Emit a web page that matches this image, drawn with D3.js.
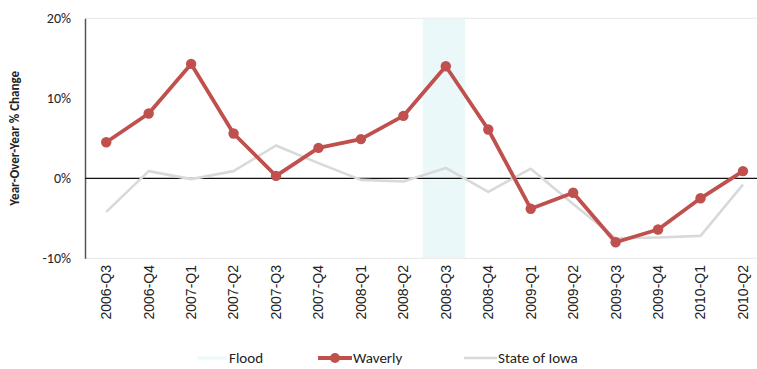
<!DOCTYPE html>
<html>
<head>
<meta charset="utf-8">
<script src="https://cdn.jsdelivr.net/npm/d3@7"></script>
<style>
  html, body { margin: 0; padding: 0; background: #fff; }
  svg { display: block; font-family: Carlito, Lato, "Open Sans", sans-serif; }
</style>
</head>
<body>
<svg id="chart" width="757" height="369"></svg>
<script>
// Quarterly year-over-year change in taxable sales (%)
const quarters = ["2006-Q3","2006-Q4","2007-Q1","2007-Q2","2007-Q3","2007-Q4","2008-Q1","2008-Q2",
                  "2008-Q3","2008-Q4","2009-Q1","2009-Q2","2009-Q3","2009-Q4","2010-Q1","2010-Q2"];
const waverly = [4.5, 8.1, 14.3, 5.6, 0.3, 3.8, 4.9, 7.8, 14.0, 6.1, -3.8, -1.8, -8.0, -6.4, -2.5, 0.9];
const stateOfIowa = [-4.2, 0.9, -0.1, 0.9, 4.1, 1.9, -0.2, -0.4, 1.3, -1.7, 1.2, -3.2, -7.5, -7.4, -7.2, -0.8];
const floodQuarters = ["2008-Q3"];
const yTicks = [-10, 0, 10, 20];
const legendItems = ["Flood", "Waverly", "State of Iowa"];

const svg = d3.select("#chart");
const margin = { left: 85, top: 18, right: 0, bottom: 111 };
const width = 757, height = 369;
const plotBottom = height - margin.bottom;

const x = d3.scaleBand().domain(quarters).range([margin.left, margin.left + 16 * 42.45]).padding(0);
const xc = d => x(d) + x.bandwidth() / 2;
const y = d3.scaleLinear().domain([-10, 20]).range([258.3, 18.3]);

const red = "#c0504d", gray = "#d9d9d9", flood = "#eaf8fa";

// Flood period shading
svg.append("g").selectAll("rect").data(floodQuarters).join("rect")
  .attr("x", d => x(d) - 2).attr("width", x.bandwidth())
  .attr("y", y(20)).attr("height", y(-10) - y(20))
  .attr("fill", flood);

// Faint horizontal gridlines at the extremes
svg.append("g").selectAll("line").data([20, -10]).join("line")
  .attr("x1", margin.left).attr("x2", width)
  .attr("y1", d => y(d)).attr("y2", d => y(d))
  .attr("stroke", "#ececec").attr("stroke-width", 1.2);

// Y axis
const yAxis = svg.append("g").attr("transform", `translate(${margin.left},0)`)
  .call(d3.axisLeft(y).tickValues(yTicks).tickFormat(d => d + "%").tickSize(0).tickPadding(14));
yAxis.select(".domain").attr("stroke", "#555").attr("stroke-width", 1.5);
yAxis.selectAll("text").attr("font-size", 14).attr("fill", "#222")
  .attr("font-family", "Carlito, Lato, sans-serif");

// Zero line
svg.append("line").attr("x1", margin.left).attr("x2", width)
  .attr("y1", y(0)).attr("y2", y(0)).attr("stroke", "#111").attr("stroke-width", 1.3);

// Y axis title
svg.append("text")
  .attr("transform", `translate(19,${y(5) - 0}) rotate(-90)`)
  .attr("text-anchor", "middle").attr("font-size", 13).attr("font-weight", "bold").attr("fill", "#222")
  .text("Year-Over-Year % Change");

// X axis labels
const xAxis = svg.append("g").attr("transform", `translate(0,${plotBottom})`)
  .call(d3.axisBottom(x).tickSize(0).tickPadding(0));
xAxis.select(".domain").remove();
xAxis.selectAll("text")
  .attr("transform", "rotate(-90)")
  .attr("text-anchor", "end").attr("x", -7).attr("y", 0).attr("dy", "0.35em")
  .attr("font-size", 14).attr("fill", "#222");

// Lines
const line = d3.line().x((d, i) => xc(quarters[i])).y(d => y(d));
svg.append("path").datum(stateOfIowa).attr("d", line)
  .attr("fill", "none").attr("stroke", gray).attr("stroke-width", 2.6).attr("stroke-linejoin", "round");
svg.append("path").datum(waverly).attr("d", line)
  .attr("fill", "none").attr("stroke", red).attr("stroke-width", 3.8).attr("stroke-linejoin", "round");
svg.append("g").selectAll("circle").data(waverly).join("circle")
  .attr("cx", (d, i) => xc(quarters[i])).attr("cy", d => y(d)).attr("r", 5.2).attr("fill", red);

// Legend
const legendY = 358;
const lg = svg.append("g");
const legendPos = [{ x0: 198, x1: 227, tx: 229 }, { x0: 318, x1: 352, tx: 353 }, { x0: 464, x1: 497, tx: 498 }];
const legendColors = [flood, red, gray];
const legendWidths = [3, 3.8, 2.6];
legendItems.forEach((name, i) => {
  const p = legendPos[i];
  lg.append("line").attr("x1", p.x0).attr("x2", p.x1).attr("y1", legendY).attr("y2", legendY)
    .attr("stroke", legendColors[i]).attr("stroke-width", legendWidths[i]);
  if (name === "Waverly") {
    lg.append("circle").attr("cx", (p.x0 + p.x1) / 2).attr("cy", legendY).attr("r", 5).attr("fill", red);
  }
  lg.append("text").attr("x", p.tx).attr("y", legendY).attr("dy", "0.35em")
    .attr("font-size", 15).attr("fill", "#222").text(name);
});
</script>
</body>
</html>
